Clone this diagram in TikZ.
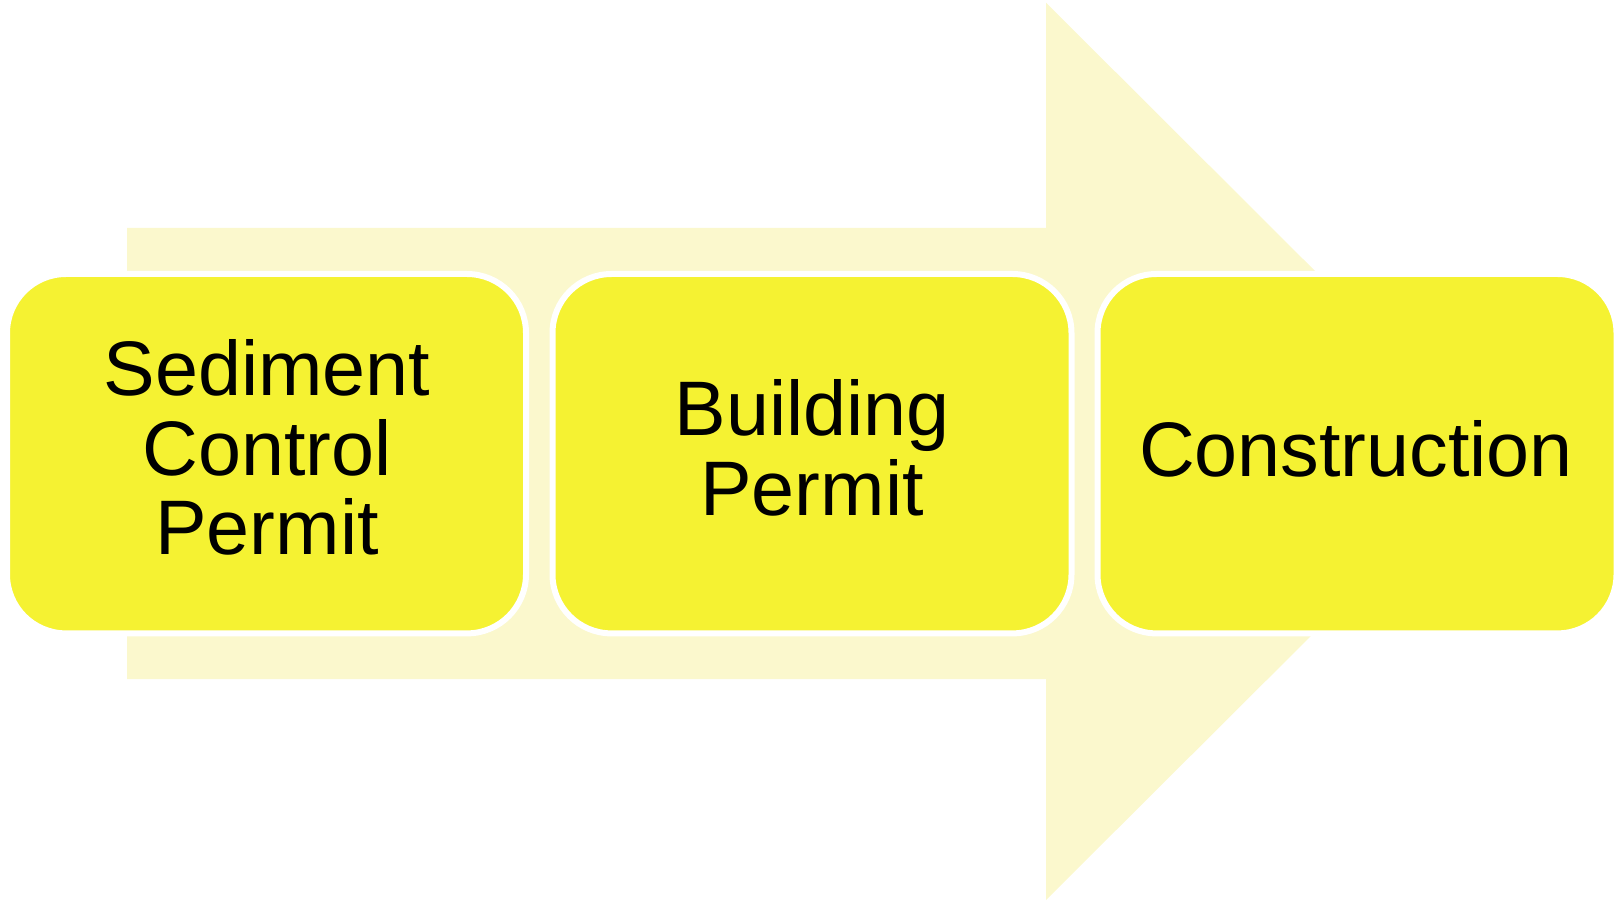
\documentclass[tikz,border=0pt]{standalone}
\usepackage{fontspec}
\setmainfont{Liberation Sans}
\definecolor{boxyellow}{HTML}{F5F232}
\definecolor{arrowyellow}{HTML}{FBF8CD}
\tikzset{
  stagebox/.style={draw=white, line width=6pt, fill=boxyellow, rounded corners=59pt,
    minimum width=519pt, minimum height=359.4pt, inner sep=0pt},
  stagetext/.style={anchor=base, inner sep=0pt, font=\fontsize{77.3}{79}\selectfont, text=black}
}
\begin{document}
\begin{tikzpicture}[x=1pt,y=-1pt]
\useasboundingbox (0,0) rectangle (1615,901);
% background arrow
\fill[arrowyellow] (127,228) -- (1046,228) -- (1046,2.7) -- (1496,451.5)
  -- (1046,900) -- (1046,679) -- (127,679) -- cycle;
% stages
\node[stagebox] (b1) at (266.5,453.7) {};
\node[stagebox] (b2) at (812,453.7) {};
\node[stagebox] (b3) at (1357,453.7) {};
% texts
\node[stagetext] (t1a) at (267,395.5) {Sediment};
\node[stagetext] (t1b) at (267,475) {Control};
\node[stagetext] (t1c) at (267,554) {Permit};
\node[stagetext] (t2a) at (812,435.5) {Building};
\node[stagetext] (t2b) at (812,515) {Permit};
\node[stagetext] (t3a) at (1356,476.5) {Construction};
\end{tikzpicture}
\end{document}
